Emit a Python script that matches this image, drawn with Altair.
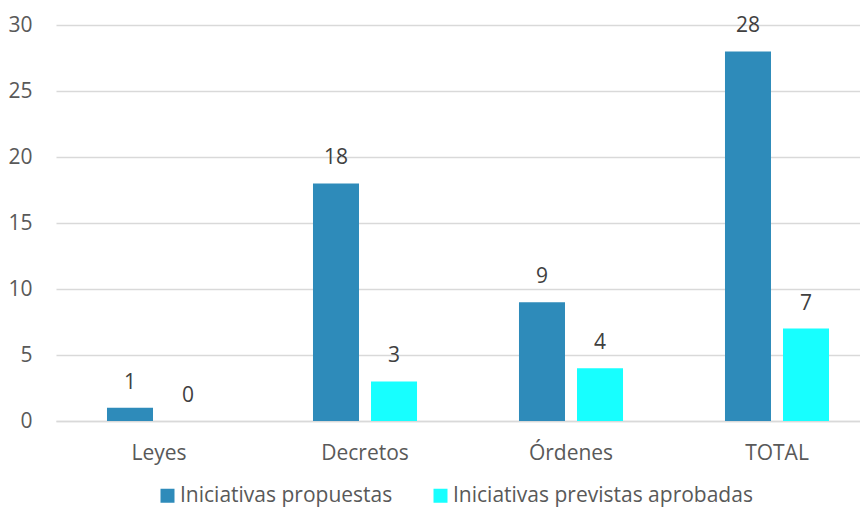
import altair as alt
import pandas as pd

categories = ["Leyes", "Decretos", "Órdenes", "TOTAL"]
series_names = ["Iniciativas propuestas", "Iniciativas previstas aprobadas"]
propuestas = [1, 18, 9, 28]
aprobadas = [0, 3, 4, 7]
colors = ["#2E8BBA", "#17FFFF"]

rows = []
for c, v in zip(categories, propuestas):
    rows.append({"cat": c, "serie": series_names[0], "valor": v})
for c, v in zip(categories, aprobadas):
    rows.append({"cat": c, "serie": series_names[1], "valor": v})
df = pd.DataFrame(rows)

FONT = "Open Sans"
FS = 21

x = alt.X("cat:N", sort=categories, title=None,
          scale=alt.Scale(paddingInner=0.495, paddingOuter=0.199, align=0.622),
          axis=alt.Axis(labelAngle=0, labelFont=FONT, labelFontSize=FS, labelColor="#595959",
                        ticks=False, domain=True, domainColor="#D9D9D9", domainWidth=1.5,
                        labelPadding=21, grid=False))
xoff = alt.XOffset("serie:N", sort=series_names,
                   scale=alt.Scale(paddingInner=0.207, paddingOuter=0))
y = alt.Y("valor:Q", title=None,
          scale=alt.Scale(domain=[0, 30], nice=False),
          axis=alt.Axis(values=[0, 5, 10, 15, 20, 25, 30], labelFont=FONT, labelFontSize=FS,
                        labelColor="#595959", ticks=False, domain=False, gridColor="#D9D9D9",
                        gridWidth=1.5, labelPadding=24))

bars = alt.Chart(df).mark_bar().encode(
    x=x, xOffset=xoff, y=y,
    color=alt.Color("serie:N", sort=series_names,
                    scale=alt.Scale(domain=series_names, range=colors),
                    legend=alt.Legend(title=None, orient="none", direction="horizontal",
                                      legendX=101, legendY=460, padding=0,
                                      symbolType="square", symbolSize=196,
                                      symbolStrokeWidth=0, symbolOpacity=1,
                                      labelFont=FONT, labelFontSize=FS, labelColor="#595959",
                                      labelOffset=2, columnPadding=37, labelLimit=400)),
)

labels = alt.Chart(df).mark_text(font=FONT, fontSize=FS, color="#404040",
                                  baseline="alphabetic", dy=-19).encode(
    x=x, xOffset=xoff, y=y, text=alt.Text("valor:Q"),
)

chart = alt.layer(bars, labels).properties(
    width=804, height=396,
    autosize=alt.AutoSizeParams(type="none"),
    padding={"left": 48, "top": 17, "right": 0, "bottom": 87},
).configure_view(stroke=None)

chart.save("out.html", embed_options={"renderer": "svg", "actions": False})
